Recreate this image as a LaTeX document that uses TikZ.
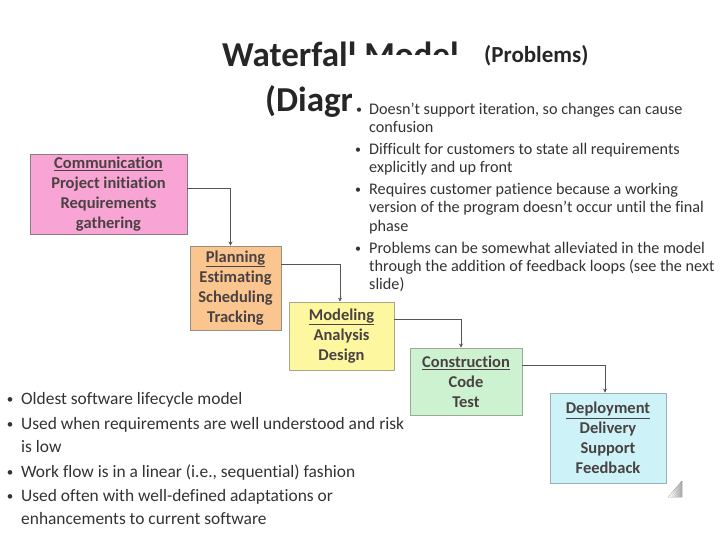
\documentclass[tikz,border=0pt]{standalone}
\usepackage{fontspec}
\setmainfont{Carlito}[Ligatures={TeX,NoCommon}]
\usetikzlibrary{arrows.meta}
\definecolor{pinkf}{HTML}{F8A4D4}
\definecolor{pinkb}{HTML}{8E7A85}
\definecolor{orangef}{HTML}{FAC58F}
\definecolor{orangeb}{HTML}{9A8E80}
\definecolor{yellowf}{HTML}{FDF7A0}
\definecolor{yellowb}{HTML}{A9A78A}
\definecolor{greenf}{HTML}{CDF2D0}
\definecolor{greenb}{HTML}{99AA99}
\definecolor{cyanf}{HTML}{CDF3F8}
\definecolor{cyanb}{HTML}{9AB0B4}
\definecolor{boxtxt}{HTML}{4A4242}
\definecolor{bodytxt}{HTML}{333333}
\definecolor{titletxt}{HTML}{262626}
\definecolor{linkc}{HTML}{555555}
\begin{document}
\begin{tikzpicture}[x=1pt,y=-1pt,
  phase/.style={draw, line width=0.9pt, rectangle, inner sep=0pt, align=center,
     text=boxtxt, font=\fontsize{16.5}{20}\selectfont\bfseries},
  link/.style={draw=linkc, line width=0.8pt, -{Stealth[length=4pt,width=4pt]}},
  rtxt/.style={anchor=base west, inner sep=0pt, text=bodytxt, font=\fontsize{16.2}{18}\selectfont},
  ltxt/.style={anchor=base west, inner sep=0pt, text=bodytxt, font=\fontsize{17.4}{20}\selectfont},
  rbul/.style={anchor=base, inner sep=0pt, text=bodytxt, font=\fontsize{12}{18}\selectfont},
  lbul/.style={anchor=base, inner sep=0pt, text=bodytxt, font=\fontsize{13}{20}\selectfont},
  ttl/.style={anchor=base west, inner sep=0pt, text=titletxt, font=\fontsize{35}{40}\selectfont\bfseries}
]
\useasboundingbox (0,0) rectangle (720,540);
\fill[white] (0,0) rectangle (720,540);

% title (partly covered by the overlay slide)
\node[ttl] (t1) at (222,67) {Waterfall Model};
\node[ttl] (t2) at (265,112) {(Diagram)};
\fill[white] (349,55) rectangle (720,80);
\fill[white] (352,80) rectangle (720,500);

\node[anchor=base west, inner sep=0pt, text=titletxt, font=\fontsize{23}{26}\selectfont\bfseries] (prob) at (484,63) {(Problems)};

% right bullets
\node[rbul] (rb1) at (359,114) {•};
\node[rtxt] (r1a) at (369,115) {Doesn't support iteration, so changes can cause};
\node[rtxt] (r1b) at (369,133) {confusion};
\node[rbul] (rb2) at (358,154) {•};
\node[rtxt] (r2a) at (369,155) {Difficult for customers to state all requirements};
\node[rtxt] (r2b) at (369,173) {explicitly and up front};
\node[rbul] (rb3) at (358,194) {•};
\node[rtxt] (r3a) at (369,195) {Requires customer patience because a working};
\node[rtxt] (r3b) at (369,213) {version of the program doesn't occur until the final};
\node[rtxt] (r3c) at (369,231) {phase};
\node[rbul] (rb4) at (358,252) {•};
\node[rtxt] (r4a) at (369,253) {Problems can be somewhat alleviated in the model};
\node[rtxt] (r4b) at (369,271) {through the addition of feedback loops (see the next};
\node[rtxt] (r4c) at (369,289) {slide)};

% left bullets
\node[lbul] (lb1) at (10,403) {•};
\node[ltxt] (l1a) at (21,404) {Oldest software lifecycle model};
\node[lbul] (lb2) at (10,428) {•};
\node[ltxt] (l2a) at (21,429) {Used when requirements are well understood and risk};
\node[ltxt] (l2b) at (21,452) {is low};
\node[lbul] (lb3) at (10,476) {•};
\node[ltxt] (l3a) at (21,477) {Work flow is in a linear (i.e., sequential) fashion};
\node[lbul] (lb4) at (10,500) {•};
\node[ltxt] (l4a) at (21,501) {Used often with well-defined adaptations or};
\node[ltxt] (l4b) at (21,524) {enhancements to current software};

% phases
\node[phase, fill=pinkf, draw=pinkb, minimum width=157pt, minimum height=80pt] (comm) at (108.5,194)
  {\underline{Communication}\\Project initiation\\Requirements\\gathering};
\node[phase, fill=orangef, draw=orangeb, minimum width=91pt, minimum height=84pt] (plan) at (235.5,288)
  {\underline{Planning}\\Estimating\\Scheduling\\Tracking};
\node[phase, fill=yellowf, draw=yellowb, minimum width=105pt, minimum height=68pt] (mod) at (341.5,336)
  {\underline{Modeling}\\Analysis\\Design};
\node[phase, fill=greenf, draw=greenb, minimum width=112pt, minimum height=67pt] (cons) at (466,381.5)
  {\underline{Construction}\\Code\\Test};
\node[phase, fill=cyanf, draw=cyanb, minimum width=116pt, minimum height=90pt] (dep) at (608,438)
  {\underline{Deployment}\\Delivery\\Support\\Feedback};

% connectors
\draw[link] ([yshift=6pt]comm.east) -| ([xshift=-5pt]plan.north);
\draw[link] ([yshift=24pt]plan.east) -| ([xshift=-1.5pt]mod.north);
\draw[link] ([yshift=17pt]mod.east) -| ([xshift=-5pt]cons.north);
\draw[link] ([yshift=16.5pt]cons.east) -| ([xshift=-3pt]dep.north);

% page-curl corner of the overlay slide
\coordinate (c1) at (668,497);
\coordinate (c2) at (682,481);
\coordinate (c3) at (682,497);
\fill[left color=white, right color=black!35] (c1) -- (c2) -- (c3) -- cycle;
\end{tikzpicture}
\end{document}
